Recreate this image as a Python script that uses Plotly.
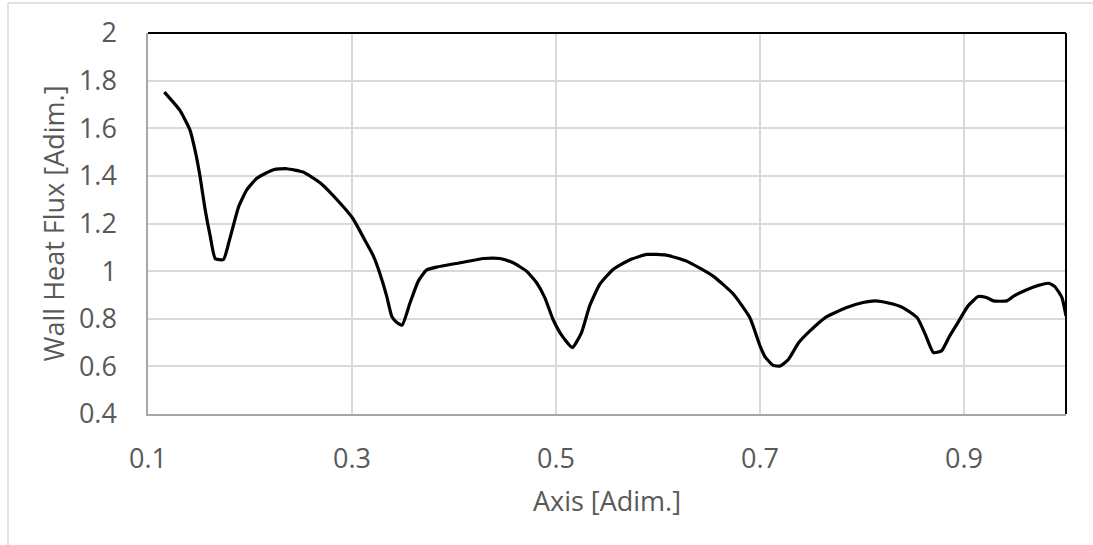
import plotly.graph_objects as go

axis_x = [0.116, 0.131, 0.141, 0.146, 0.151, 0.156, 0.161, 0.166, 0.174, 0.180,
          0.189, 0.197, 0.207, 0.223, 0.236, 0.252, 0.269, 0.288, 0.301, 0.314,
          0.321, 0.327, 0.334, 0.339, 0.343, 0.349, 0.357, 0.365, 0.373, 0.383,
          0.406, 0.429, 0.445, 0.458, 0.471, 0.481, 0.489, 0.497, 0.506, 0.516,
          0.525, 0.533, 0.543, 0.556, 0.573, 0.589, 0.608, 0.628, 0.654, 0.674,
          0.690, 0.700, 0.705, 0.713, 0.720, 0.728, 0.738, 0.749, 0.764, 0.785,
          0.801, 0.813, 0.827, 0.840, 0.854, 0.862, 0.870, 0.878, 0.886, 0.894,
          0.904, 0.914, 0.922, 0.929, 0.942, 0.949, 0.961, 0.973, 0.983, 0.989,
          0.996, 1.000]
heat_flux = [1.752, 1.677, 1.594, 1.510, 1.398, 1.259, 1.147, 1.052, 1.049, 1.133,
             1.272, 1.342, 1.391, 1.426, 1.430, 1.416, 1.370, 1.287, 1.220, 1.119,
             1.063, 0.994, 0.895, 0.810, 0.788, 0.773, 0.868, 0.958, 1.004, 1.017,
             1.035, 1.053, 1.053, 1.035, 1.000, 0.951, 0.889, 0.798, 0.728, 0.679,
             0.742, 0.854, 0.945, 1.007, 1.049, 1.070, 1.067, 1.042, 0.979, 0.903,
             0.805, 0.686, 0.640, 0.604, 0.602, 0.630, 0.700, 0.749, 0.805, 0.847,
             0.868, 0.875, 0.865, 0.847, 0.805, 0.735, 0.658, 0.665, 0.728, 0.784,
             0.854, 0.893, 0.889, 0.875, 0.875, 0.896, 0.921, 0.940, 0.949, 0.935,
             0.889, 0.812]

FONT = "Open Sans"
TXT = "#595959"
GRID = "#d9d9d9"

fig = go.Figure()
fig.add_trace(go.Scatter(
    x=axis_x, y=heat_flux, mode="lines",
    line=dict(color="black", width=3.2, shape="spline", smoothing=0.5),
    showlegend=False, hoverinfo="x+y"))

fig.update_layout(
    width=1093, height=545,
    margin=dict(l=148, r=27, t=33, b=131),
    paper_bgcolor="white", plot_bgcolor="white",
    font=dict(family=FONT, size=27, color=TXT),
    xaxis=dict(
        range=[0.1, 1.0], tick0=0.1, dtick=0.2, tickformat=".1f",
        showgrid=True, gridcolor=GRID, gridwidth=1.5,
        showline=True, linecolor="#a6a6a6", linewidth=1.5,
        ticks="", zeroline=False, ticklabelstandoff=20,
        title=dict(text="Axis [Adim.]", standoff=17, font=dict(size=27, color=TXT)),
    ),
    yaxis=dict(
        range=[0.4, 2.0], dtick=0.2, tickformat="~g",
        showgrid=True, gridcolor=GRID, gridwidth=1.5,
        showline=True, linecolor="#a6a6a6", linewidth=1.5,
        ticks="", zeroline=False, ticklabelstandoff=24,
        title=dict(text="Wall Heat Flux [Adim.]", standoff=6, font=dict(size=27, color=TXT)),
    ),
    shapes=[
        dict(type="line", xref="paper", yref="paper", x0=0, x1=1, y0=1, y1=1,
             line=dict(color="black", width=2)),
        dict(type="line", xref="paper", yref="paper", x0=1, x1=1, y0=0, y1=1,
             line=dict(color="black", width=2)),
        dict(type="line", xref="paper", yref="paper", x0=-0.1525, x1=1.03, y0=1.0787, y1=1.0787,
             line=dict(color=GRID, width=1.5)),
        dict(type="line", xref="paper", yref="paper", x0=-0.1525, x1=-0.1525, y0=-0.35, y1=1.0787,
             line=dict(color=GRID, width=1.5)),
    ],
)

fig.write_html("out.html")
